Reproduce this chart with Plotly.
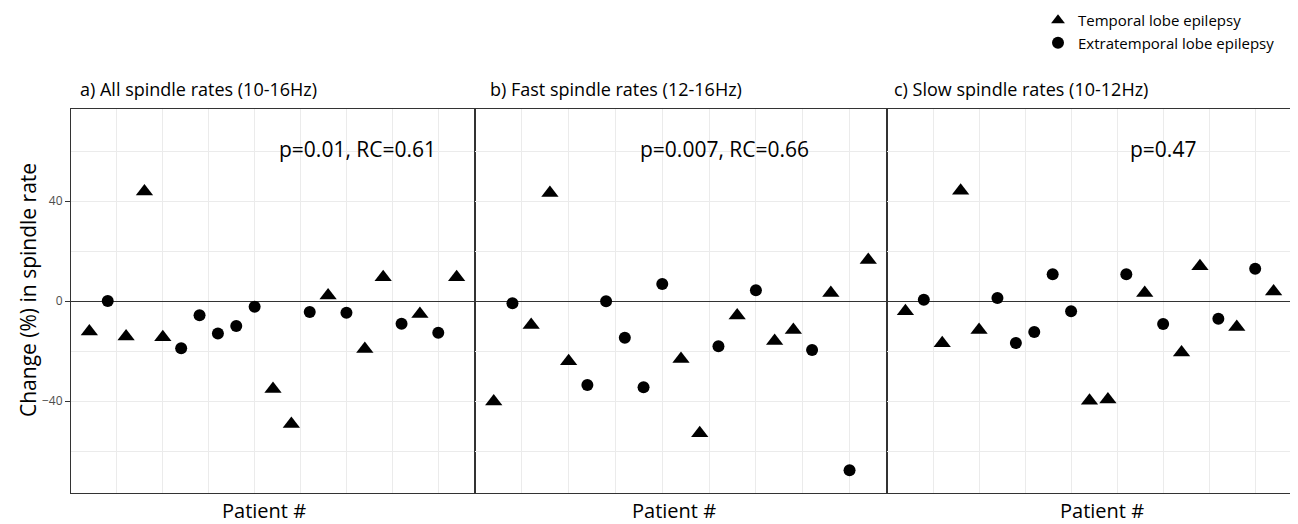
import plotly.graph_objects as go

patients = list(range(1, 22))
group = ["T", "E", "T", "T", "T", "E", "E", "E", "E", "E", "T",
         "T", "E", "T", "E", "T", "T", "E", "T", "E", "T"]

all_rates = [-12.2, 0.0, -14.2, 43.8, -14.5, -18.9, -5.7, -13.0, -10.0, -2.3, -35.2,
             -49.2, -4.4, 2.2, -4.7, -19.2, 9.5, -9.1, -5.2, -12.7, 9.5]
fast_rates = [-40.2, -0.9, -9.6, 43.2, -24.1, -33.6, -0.1, -14.7, -34.5, 6.8, -23.2,
              -52.9, -18.1, -5.8, 4.3, -16.0, -11.6, -19.6, 3.2, -67.7, 16.4]
slow_rates = [-4.1, 0.5, -16.9, 44.1, -11.6, 1.2, -16.8, -12.4, 10.7, -4.1, -39.9,
              -39.4, 10.7, 3.2, -9.2, -20.6, 13.9, -7.1, -10.4, 12.9, 3.8]

panel_titles = ["a) All spindle rates (10-16Hz)",
                "b) Fast spindle rates (12-16Hz)",
                "c) Slow spindle rates (10-12Hz)"]
stats_text = ["p=0.01, RC=0.61", "p=0.007, RC=0.66", "p=0.47"]
stats_x = [15.6, 13.3, 15.0]
stats_y = [61, 61, 61]
y_ticks = [-40, 0, 40]
group_names = {"T": "Temporal lobe epilepsy", "E": "Extratemporal lobe epilepsy"}

FONT = "Open Sans"
fig = go.Figure()

panels = [all_rates, fast_rates, slow_rates]
# plot area: 1221 x 384 px
domains = [[0, 404 / 1221], [404 / 1221, 816 / 1221], [816 / 1221, 1]]
title_x = [(78 - 71) / 1221, (488 - 71) / 1221, (892 - 71) / 1221]
xtitle_x = [(263.5 - 71) / 1221, (674 - 71) / 1221, (1102 - 71) / 1221]

for i, vals in enumerate(panels):
    xa = "x" if i == 0 else f"x{i+1}"
    ya = "y" if i == 0 else f"y{i+1}"
    for g, sym, size in [("T", "triangle-up", 15), ("E", "circle", 12)]:
        xs = [p for p, gg in zip(patients, group) if gg == g]
        ys = [v for v, gg in zip(vals, group) if gg == g]
        fig.add_trace(go.Scatter(
            x=xs, y=ys, mode="markers", xaxis=xa, yaxis=ya,
            marker=dict(symbol=sym, size=size, color="black", line=dict(width=0)),
            name=group_names[g], showlegend=(i == 0), legendgroup=g,
        ))

axis_common = dict(showline=True, mirror=True, linecolor="#333333", linewidth=1,
                   gridcolor="#EBEBEB", gridwidth=1)
for i in range(3):
    sfx = "" if i == 0 else str(i + 1)
    fig.layout["xaxis" + sfx] = dict(
        domain=domains[i], range=[0, 22], tick0=0, dtick=5, showticklabels=False,
        ticks="", zeroline=False, anchor="y" + sfx,
        minor=dict(dtick=2.5, tick0=0, showgrid=True, gridcolor="#EBEBEB", gridwidth=1),
        **axis_common)
    fig.layout["yaxis" + sfx] = dict(
        domain=[0, 1], range=[-76.8, 76.8], tickvals=y_ticks,
        showticklabels=(i == 0), ticks="outside" if i == 0 else "", ticklen=5,
        tickcolor="#333333", tickfont=dict(family=FONT, size=12, color="#4D4D4D"),
        zeroline=True, zerolinecolor="#333333", zerolinewidth=1, anchor="x" + sfx,
        minor=dict(tickvals=[-60, -20, 20, 60], showgrid=True, gridcolor="#EBEBEB", gridwidth=1),
        **axis_common)

annotations = []
for i in range(3):
    annotations.append(dict(text=panel_titles[i], x=title_x[i], y=(493 - 89) / 384,
                            xref="paper", yref="paper",
                            xanchor="left", yanchor="middle", showarrow=False,
                            font=dict(family=FONT, size=18, color="black")))
    sfx = "" if i == 0 else str(i + 1)
    annotations.append(dict(text=stats_text[i], x=stats_x[i], y=stats_y[i],
                            xref="x" + sfx, yref="y" + sfx,
                            xanchor="center", yanchor="middle", showarrow=False,
                            font=dict(family=FONT, size=21, color="black")))
    annotations.append(dict(text="Patient #", x=xtitle_x[i], y=(493 - 510) / 384,
                            xref="paper", yref="paper", borderpad=0,
                            xanchor="center", yanchor="middle", showarrow=False,
                            font=dict(family=FONT, size=20, color="black")))
annotations.append(dict(text="Change (%) in spindle rate", x=(28 - 71) / 1221, y=(493 - 290) / 384,
                        xref="paper", yref="paper",
                        xanchor="center", yanchor="middle", textangle=-90, showarrow=False,
                        font=dict(family=FONT, size=21, color="black")))

# The page shows the figure with an 8px offset; the figure is laid out to compensate.
fig.update_layout(
    width=1290, height=516,
    margin=dict(l=63, r=6, t=101, b=31, autoexpand=False),
    paper_bgcolor="white", plot_bgcolor="white",
    annotations=annotations,
    legend=dict(x=(1038 - 71) / 1221, y=(493 - 4) / 384, xanchor="left", yanchor="top",
                font=dict(family=FONT, size=15, color="black"), tracegroupgap=0,
                bgcolor="rgba(0,0,0,0)", itemsizing="constant"),
)

fig.write_html("out.html")
